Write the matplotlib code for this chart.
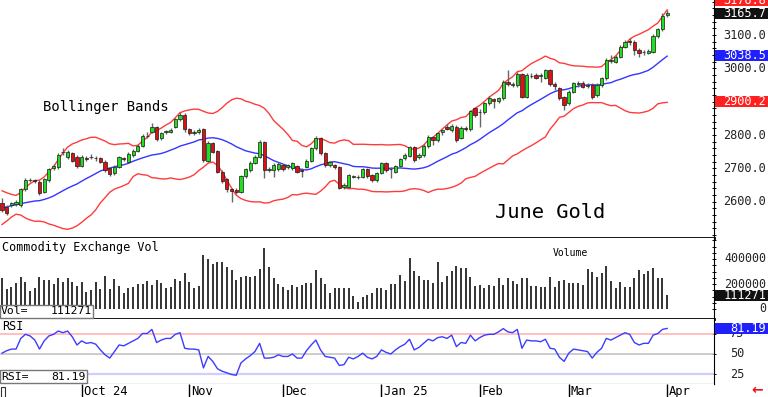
import numpy as np
import pandas as pd
import matplotlib
matplotlib.use('Agg')
import matplotlib.pyplot as plt
from matplotlib.patches import Rectangle

MONO = 'DejaVu Sans Mono'

# daily June Gold candles (index 0 = early Sep 2024, 142 = Apr 1 2025)
opens = [2595, 2585, 2590, 2592, 2590, 2637, 2665, 2664, 2660, 2630,
         2665, 2700, 2703, 2748, 2735, 2745, 2735, 2707, 2732, 2735,
         2730, 2730, 2720, 2700, 2685, 2705, 2730, 2720, 2740, 2752,
         2767, 2797, 2810, 2823, 2790, 2808, 2810, 2825, 2847, 2860,
         2817, 2807, 2810, 2817, 2723, 2777, 2752, 2690, 2667, 2638,
         2635, 2630, 2677, 2695, 2717, 2735, 2780, 2695, 2695, 2697,
         2710, 2703, 2700, 2707, 2695, 2705, 2723, 2760, 2790, 2745,
         2710, 2710, 2703, 2645, 2645, 2675, 2673, 2675, 2697, 2680,
         2665, 2687, 2717, 2697, 2690, 2707, 2730, 2737, 2763, 2733,
         2740, 2767, 2793, 2785, 2808, 2825, 2815, 2825, 2792, 2822,
         2818, 2880, 2868, 2868, 2895, 2908, 2902, 2910, 2960, 2950,
         2950, 2982, 2915, 2976, 2980, 2976, 2972, 2995, 2952, 2940,
         2915, 2895, 2930, 2953, 2955, 2948, 2950, 2920, 2950, 2970,
         3022, 3020, 3035, 3065, 3083, 3080, 3055, 3050, 3047, 3050,
         3097, 3117, 3160]
highs = [2610, 2590, 2600, 2605, 2640, 2672, 2672, 2668, 2665, 2670,
         2700, 2712, 2745, 2760, 2755, 2750, 2740, 2740, 2738, 2742,
         2737, 2733, 2724, 2705, 2710, 2738, 2735, 2748, 2758, 2772,
         2802, 2810, 2835, 2828, 2810, 2816, 2820, 2850, 2868, 2865,
         2822, 2815, 2820, 2820, 2782, 2780, 2755, 2695, 2670, 2642,
         2640, 2680, 2702, 2722, 2740, 2785, 2782, 2705, 2715, 2718,
         2713, 2714, 2720, 2710, 2700, 2728, 2765, 2798, 2795, 2750,
         2723, 2714, 2708, 2655, 2683, 2681, 2679, 2702, 2700, 2684,
         2690, 2720, 2720, 2704, 2711, 2732, 2745, 2768, 2767, 2745,
         2772, 2800, 2797, 2810, 2818, 2832, 2833, 2830, 2826, 2826,
         2876, 2885, 2878, 2900, 2918, 2912, 2915, 2965, 2995, 2958,
         2988, 2985, 2985, 2985, 2987, 2985, 2998, 2998, 2958, 2945,
         2918, 2935, 2960, 2962, 2962, 2957, 2955, 2955, 2975, 3030,
         3040, 3040, 3070, 3085, 3090, 3085, 3060, 3055, 3058, 3102,
         3122, 3165, 3175]
lows = [2568, 2560, 2583, 2588, 2585, 2632, 2658, 2655, 2620, 2625,
        2660, 2695, 2698, 2740, 2728, 2718, 2702, 2703, 2722, 2728,
        2722, 2716, 2690, 2678, 2680, 2700, 2722, 2715, 2735, 2748,
        2763, 2790, 2805, 2782, 2785, 2802, 2805, 2820, 2842, 2810,
        2800, 2800, 2803, 2718, 2718, 2745, 2685, 2655, 2630, 2600,
        2622, 2626, 2672, 2690, 2712, 2730, 2672, 2690, 2675, 2692,
        2692, 2698, 2695, 2685, 2675, 2700, 2718, 2755, 2740, 2705,
        2705, 2697, 2637, 2638, 2640, 2670, 2668, 2670, 2672, 2660,
        2660, 2683, 2690, 2670, 2686, 2703, 2725, 2733, 2720, 2728,
        2735, 2762, 2770, 2780, 2800, 2815, 2810, 2780, 2788, 2812,
        2812, 2855, 2825, 2862, 2890, 2880, 2897, 2905, 2948, 2945,
        2945, 2910, 2910, 2972, 2968, 2960, 2968, 2948, 2935, 2905,
        2875, 2890, 2925, 2945, 2940, 2940, 2908, 2915, 2945, 2965,
        3015, 3015, 3030, 3060, 3070, 3040, 3035, 3040, 3042, 3045,
        3092, 3112, 3155]
closes = [2575, 2567, 2597, 2600, 2637, 2665, 2666, 2662, 2625, 2667,
          2697, 2707, 2740, 2750, 2750, 2723, 2707, 2735, 2728, 2734,
          2730, 2720, 2695, 2683, 2705, 2733, 2728, 2743, 2753, 2767,
          2797, 2797, 2823, 2787, 2805, 2812, 2814, 2847, 2860, 2817,
          2807, 2810, 2815, 2725, 2777, 2750, 2690, 2663, 2638, 2632,
          2630, 2677, 2697, 2717, 2735, 2780, 2695, 2697, 2710, 2713,
          2697, 2710, 2715, 2690, 2692, 2723, 2760, 2790, 2745, 2710,
          2720, 2703, 2640, 2650, 2680, 2677, 2675, 2697, 2677, 2665,
          2687, 2717, 2695, 2699, 2707, 2728, 2740, 2763, 2725, 2740,
          2767, 2793, 2785, 2805, 2814, 2818, 2828, 2785, 2822, 2818,
          2872, 2860, 2870, 2895, 2910, 2902, 2910, 2960, 2952, 2952,
          2982, 2915, 2980, 2978, 2972, 2979, 2995, 2952, 2948, 2910,
          2890, 2930, 2955, 2955, 2945, 2950, 2915, 2950, 2970, 3025,
          3025, 3035, 3065, 3080, 3080, 3055, 3045, 3048, 3053, 3097,
          3117, 3157, 3165.7]
# closes before the window, needed for the first 20-day bands
pre_closes = [2520, 2528, 2545, 2575, 2600, 2615, 2612, 2603, 2595, 2605,
              2590, 2580, 2595, 2600, 2592, 2585, 2565, 2572, 2588]

volume = [245, 160, 179, 205, 259, 219, 144, 171, 259, 232,
          232, 197, 245, 219, 245, 219, 187, 219, 139, 152,
          219, 160, 261, 160, 237, 187, 125, 171, 179, 200,
          200, 224, 192, 232, 205, 171, 179, 237, 224, 285,
          219, 165, 187, 432, 400, 357, 379, 379, 339, 312,
          232, 259, 267, 259, 267, 317, 485, 339, 245, 197,
          179, 152, 192, 179, 192, 205, 205, 312, 251, 197,
          125, 165, 171, 171, 171, 107, 59, 99, 112, 125,
          165, 171, 152, 197, 197, 272, 224, 411, 304, 267,
          232, 232, 205, 379, 213, 267, 304, 347, 325, 325,
          253, 187, 192, 165, 192, 187, 251, 192, 251, 224,
          197, 251, 245, 187, 187, 179, 179, 259, 179, 224,
          232, 205, 205, 205, 192, 320, 299, 259, 285, 347,
          224, 165, 213, 179, 179, 251, 312, 277, 304, 331,
          251, 251, 111.271]

rsi = [51, 54, 56, 56, 69, 74, 72, 67, 56, 66,
       72, 74, 78, 76, 78, 71, 61, 66, 63, 64,
       62, 55, 49, 45, 53, 61, 60, 63, 66, 69,
       75, 75, 80, 64, 67, 69, 69, 74, 76, 57,
       56, 56, 55, 33, 47, 41, 32, 29, 27, 25,
       24, 39, 44, 48, 53, 63, 45, 45, 46, 49,
       47, 47, 50, 45, 45, 54, 61, 67, 55, 47,
       46, 45, 36, 37, 46, 44, 47, 51, 46, 44,
       47, 55, 52, 50, 55, 59, 62, 68, 55, 58,
       63, 68, 66, 70, 71, 69, 73, 59, 64, 63,
       73, 66, 70, 73, 74, 74, 77, 81, 77, 76,
       80, 57, 67, 66, 66, 65, 68, 57, 56, 46,
       41, 51, 56, 55, 54, 53, 45, 52, 57, 69,
       67, 70, 73, 76, 74, 64, 61, 63, 63, 73,
       75, 80, 81.19]

month_labels = ['Oct 24', 'Nov', 'Dec', 'Jan 25', 'Feb', 'Mar', 'Apr']
month_idx = [17, 40, 60, 81, 102, 121, 142]

W, H = 768, 397
fig = plt.figure(figsize=(W / 100, H / 100), dpi=100)

def fx(x):
    return x / W

def fy(y):
    return 1 - y / H

ax_p = fig.add_axes([0, fy(238), fx(714), 238 / H])
ax_v = fig.add_axes([0, fy(318.5), fx(714), 80.5 / H])
ax_r = fig.add_axes([0, fy(384), fx(714), 65.5 / H])
ax_d = fig.add_axes([0, 0, fx(714), 13 / H])

x = np.arange(len(closes))
o = np.array(opens, float)
c = np.array(closes, float)
hi = np.array(highs, float)
lo = np.array(lows, float)
n = len(c)

# bollinger bands 20 / 2
s = pd.Series(pre_closes + closes, dtype=float)
mid = s.rolling(20).mean().to_numpy()[-n:]
sd = s.rolling(20).std(ddof=0).to_numpy()[-n:]
upper = mid + 2 * sd
lower = mid - 2 * sd

for ax in (ax_p, ax_v, ax_r, ax_d):
    ax.set_xlim(-0.43, 152.0)
    ax.set_xticks([])
    for sp in ax.spines.values():
        sp.set_visible(False)

# price panel
ax_p.set_ylim(2491, 3205)
ax_p.plot(x, upper, color='#ff3b3b', lw=1)
ax_p.plot(x, lower, color='#ff3b3b', lw=1)
ax_p.plot(x, mid, color='#3535ff', lw=1)
ax_p.vlines(x, lo, hi, color='#666666', lw=1, zorder=3)
up = c >= o
cols = np.where(up, '#22dd22', '#dd1111')
ax_p.bar(x, np.maximum(np.abs(c - o), 1.5), bottom=np.minimum(o, c), width=0.7,
         color=cols, edgecolor='#1a1a1a', lw=0.5, zorder=4)
ax_p.spines['right'].set_visible(True)
ax_p.spines['bottom'].set_visible(True)
ax_p.spines['bottom'].set_linewidth(2)
ax_p.yaxis.set_ticks_position('right')
ax_p.set_yticks(np.arange(2500, 3201, 100))
ax_p.set_yticks(np.arange(2500, 3201, 20), minor=True)
ax_p.tick_params(axis='y', which='both', direction='inout', length=3, width=0.7,
                 labelright=False, labelleft=False)

# volume panel
ax_v.set_ylim(-76000, 568000)
ax_v.vlines(x, 0, np.array(volume) * 1000, color='#333333', lw=1.4)
ax_v.spines['right'].set_visible(True)
ax_v.spines['bottom'].set_visible(True)
ax_v.spines['bottom'].set_linewidth(2)
ax_v.yaxis.set_ticks_position('right')
ax_v.set_yticks([0, 200000, 400000])
ax_v.set_yticks(np.arange(0, 560000, 50000), minor=True)
ax_v.tick_params(axis='y', which='both', direction='inout', length=3, width=0.7,
                 labelright=False, labelleft=False)

# rsi panel
ax_r.set_ylim(13.4, 93.3)
ax_r.axhline(75, color='#ffb4b4', lw=1.2)
ax_r.axhline(50, color='#c4c4c4', lw=1.2)
ax_r.axhline(25, color='#cdd0ff', lw=1.6)
ax_r.plot(x, rsi, color='#3c3cff', lw=1)
ax_r.spines['right'].set_visible(True)
ax_r.spines['bottom'].set_visible(True)
ax_r.yaxis.set_ticks_position('right')
ax_r.set_yticks([25, 50, 75])
ax_r.tick_params(axis='y', which='both', direction='inout', length=3, width=0.7,
                 labelright=False, labelleft=False)

# date strip
ax_d.set_ylim(0, 1)
ax_d.set_yticks([])
ax_d.vlines(month_idx, 0, 1, color='black', lw=1)
for mi, ml in zip(month_idx, month_labels):
    ax_d.text(mi + 0.45, 0.42, ml, fontsize=8.7, family=MONO, va='center', ha='left')
fig.patches.append(Rectangle((fx(0.5), fy(397)), fx(4.5), 10 / H, transform=fig.transFigure,
                             fill=False, edgecolor='#333333', lw=0.8))
fig.text(fx(757), fy(390), '\u2190', color='#ee1111', fontsize=10, fontweight='bold',
         ha='center', va='center')

# right axis labels
def ypix(ax, val):
    return H - ax.transData.transform((0, val))[1]

for v in [2600, 2700, 2800, 2900, 3000, 3100]:
    fig.text(fx(766), fy(ypix(ax_p, v)), '%.1f' % v, fontsize=8.6, family=MONO,
             ha='right', va='center', color='#222222')
for v in [0, 200000, 400000]:
    fig.text(fx(766), fy(ypix(ax_v, v)), '%d' % v, fontsize=8.4, family=MONO,
             ha='right', va='center', color='#222222')
for v in [25, 50, 75]:
    fig.text(fx(744), fy(ypix(ax_r, v)), '%d' % v, fontsize=8.6, family=MONO,
             ha='right', va='center', color='#222222')

def tag(ycen, txt, fc):
    fig.patches.append(Rectangle((fx(715), fy(ycen + 5.5)), fx(768) - fx(715), 11 / H,
                                 transform=fig.transFigure, facecolor=fc,
                                 edgecolor='none', zorder=5))
    fig.text(fx(766), fy(ycen), txt, fontsize=8.6, family=MONO, ha='right',
             va='center', color='white', zorder=6)

tag(0.5, '3176.8', '#ff2020')
tag(ypix(ax_p, c[-1]), '3165.7', '#111111')
tag(ypix(ax_p, 3038.5), '3038.5', '#2020ff')
tag(ypix(ax_p, 2900.2), '2900.2', '#ff2020')
tag(ypix(ax_v, volume[-1] * 1000) + 0.5, '111271', '#111111')
tag(ypix(ax_r, rsi[-1]), '81.19', '#2020ff')

# panel captions
fig.text(fx(43), fy(107), 'Bollinger Bands', fontsize=10, family=MONO, va='center')
fig.text(fx(495), fy(213), 'June Gold', fontsize=14.7, family=MONO, va='center')
fig.text(fx(2), fy(247), 'Commodity Exchange Vol', fontsize=8.5, family=MONO, va='center')
fig.text(fx(570), fy(253), 'Volume', fontsize=7, family=MONO, va='center', ha='center')
fig.text(fx(2), fy(327), 'RSI', fontsize=8.5, family=MONO, va='center')

def info_box(x1, y1, y2, left, right):
    fig.patches.append(Rectangle((fx(0), fy(y2)), fx(x1), (y2 - y1) / H,
                                 transform=fig.transFigure, facecolor='white',
                                 edgecolor='#777777', lw=1, zorder=5))
    fig.text(fx(1), fy((y1 + y2) / 2), left, fontsize=8.2, family=MONO, va='center', zorder=6)
    fig.text(fx(x1 - 1), fy((y1 + y2) / 2), right, fontsize=8.2, family=MONO,
             va='center', ha='right', zorder=6)

info_box(93, 305, 318, 'Vol=', '111271')
info_box(87, 370, 383, 'RSI=', '81.19')

fig.savefig('out.png', dpi=100)
